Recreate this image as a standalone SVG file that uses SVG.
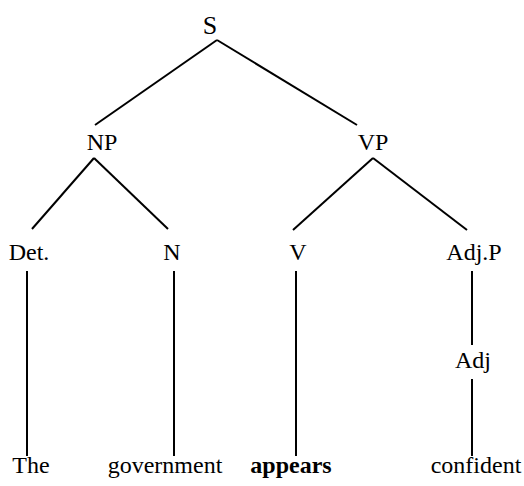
<svg xmlns="http://www.w3.org/2000/svg" width="524" height="486" viewBox="0 0 524 486">
  <rect width="524" height="486" fill="#fff"/>
  <!-- tree branches -->
  <g id="connectors" stroke="#000" stroke-width="2" fill="none">
    <line x1="217" y1="40" x2="95" y2="125"/>
    <line x1="217" y1="40" x2="357" y2="125"/>
    <line x1="94" y1="158" x2="32" y2="229"/>
    <line x1="94" y1="158" x2="168" y2="229"/>
    <line x1="373" y1="158" x2="293" y2="230"/>
    <line x1="373" y1="158" x2="467" y2="230"/>
    <line x1="27" y1="271" x2="27" y2="456"/>
    <line x1="174" y1="271" x2="174" y2="456"/>
    <line x1="296" y1="271" x2="296" y2="456"/>
    <line x1="472" y1="271" x2="472" y2="345"/>
    <line x1="472" y1="379" x2="472" y2="456"/>
  </g>
  <!-- category labels and words -->
  <g id="node-S"><text x="210" y="34" text-anchor="middle" font-family="Times New Roman, Liberation Serif, serif" font-size="26">S</text></g>
  <g id="node-NP"><text x="102" y="150" text-anchor="middle" font-family="Times New Roman, Liberation Serif, serif" font-size="24">NP</text></g>
  <g id="node-VP"><text x="373" y="150" text-anchor="middle" font-family="Times New Roman, Liberation Serif, serif" font-size="24">VP</text></g>
  <g id="node-Det"><text x="29" y="260" text-anchor="middle" font-family="Times New Roman, Liberation Serif, serif" font-size="24">Det.</text></g>
  <g id="node-N"><text x="172" y="260" text-anchor="middle" font-family="Times New Roman, Liberation Serif, serif" font-size="24">N</text></g>
  <g id="node-V"><text x="298" y="260" text-anchor="middle" font-family="Times New Roman, Liberation Serif, serif" font-size="24">V</text></g>
  <g id="node-AdjP"><text x="474" y="260" text-anchor="middle" font-family="Times New Roman, Liberation Serif, serif" font-size="24">Adj.P</text></g>
  <g id="node-Adj"><text x="473" y="368" text-anchor="middle" font-family="Times New Roman, Liberation Serif, serif" font-size="24">Adj</text></g>
  <g id="word-The"><text x="31" y="473" text-anchor="middle" font-family="Times New Roman, Liberation Serif, serif" font-size="24">The</text></g>
  <g id="word-government"><text x="165" y="473" text-anchor="middle" font-family="Times New Roman, Liberation Serif, serif" font-size="24">government</text></g>
  <g id="word-appears"><text x="291" y="473" text-anchor="middle" font-family="Times New Roman, Liberation Serif, serif" font-size="24" font-weight="bold">appears</text></g>
  <g id="word-confident"><text x="476" y="473" text-anchor="middle" font-family="Times New Roman, Liberation Serif, serif" font-size="24">confident</text></g>
</svg>
